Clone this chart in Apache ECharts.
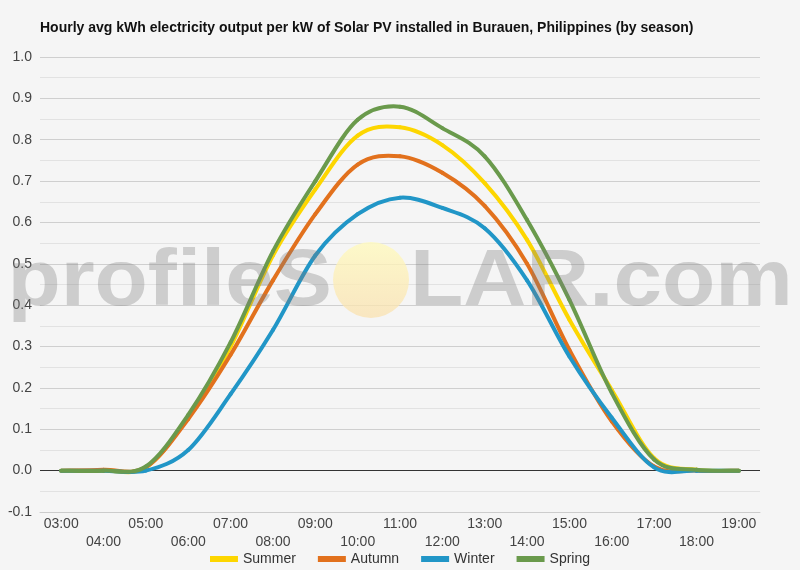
<!DOCTYPE html>
<html>
<head>
<meta charset="utf-8">
<script src="https://cdn.jsdelivr.net/npm/echarts@6/dist/echarts.min.js"></script>
<style>html,body{margin:0;padding:0;background:#f5f5f5;}#c{width:800px;height:570px;}</style>
</head>
<body>
<div id="c"></div>
<script>
var hours = ['03:00','04:00','05:00','06:00','07:00','08:00','09:00','10:00','11:00','12:00','13:00','14:00','15:00','16:00','17:00','18:00','19:00'];
var summer = [0, 0, 0.008, 0.13, 0.30, 0.52, 0.68, 0.81, 0.83, 0.787, 0.695, 0.558, 0.365, 0.195, 0.03, 0.002, 0];
var autumn = [0, 0.002, 0.008, 0.125, 0.28, 0.46, 0.62, 0.74, 0.76, 0.72, 0.64, 0.50, 0.292, 0.119, 0.01, 0, 0];
var winter = [0, 0, 0, 0.05, 0.185, 0.34, 0.52, 0.62, 0.66, 0.635, 0.586, 0.46, 0.276, 0.128, 0.008, 0, 0];
var spring = [0, 0, 0.01, 0.135, 0.31, 0.53, 0.70, 0.848, 0.88, 0.828, 0.76, 0.606, 0.413, 0.188, 0.027, 0.002, 0];
var seriesNames = ['Summer', 'Autumn', 'Winter', 'Spring'];
var seriesData = [summer, autumn, winter, spring];
var colors = ['#FDD600', '#E2711D', '#2196C7', '#6A9A4C'];
var titleText = 'Hourly avg kWh electricity output per kW of Solar PV installed in Burauen, Philippines (by season)';

var chart = echarts.init(document.getElementById('c'), null, {renderer: 'canvas'});

function makeRender(values, color) {
  return function (params, api) {
    if (params.dataIndex !== 0) return null;
    var pts = values.map(function (v, k) { return api.coord([k, v]); });
    var n = pts.length, s = 1 / 6, children = [];
    for (var i = 0; i < n - 1; i++) {
      var p0 = pts[Math.max(i - 1, 0)], p1 = pts[i], p2 = pts[i + 1], p3 = pts[Math.min(i + 2, n - 1)];
      children.push({
        type: 'bezierCurve',
        shape: {
          x1: p1[0], y1: p1[1], x2: p2[0], y2: p2[1],
          cpx1: p1[0] + (p2[0] - p0[0]) * s, cpy1: p1[1] + (p2[1] - p0[1]) * s,
          cpx2: p2[0] - (p3[0] - p1[0]) * s, cpy2: p2[1] - (p3[1] - p1[1]) * s
        },
        style: {stroke: color, lineWidth: 4, fill: null, lineCap: 'round'}
      });
    }
    return {type: 'group', children: children};
  };
}

var series = seriesNames.map(function (n, i) {
  var s = {
    name: n, type: 'custom', data: seriesData[i].map(function (v, k) { return [k, v]; }),
    encode: {x: 0, y: 1}, renderItem: makeRender(seriesData[i], colors[i]),
    itemStyle: {color: colors[i]}, z: 3 + i, silent: true
  };
  if (i === 0) {
    s.markLine = {silent: true, symbol: 'none', label: {show: false},
      lineStyle: {color: '#333', width: 1, type: 'solid'}, data: [{yAxis: 0}], z: 1};
  }
  return s;
});
chart.setOption({
  backgroundColor: '#f5f5f5',
  animation: false,
  color: colors,
  title: {text: titleText, left: 35, top: 16,
    textStyle: {fontFamily: 'Liberation Sans, Arial', fontSize: 14, fontWeight: 'bold', color: '#111'}},
  grid: {left: 40, right: 40, top: 57, bottom: 58},
  legend: {bottom: -1, left: 'center', icon: 'rect', itemWidth: 28, itemHeight: 6, itemGap: 22,
    textStyle: {fontFamily: 'Liberation Sans, Arial', fontSize: 14, color: '#333'}, data: seriesNames},
  xAxis: {type: 'category', data: hours, boundaryGap: true,
    axisLine: {onZero: false, lineStyle: {color: '#ccc'}}, axisTick: {show: false},
    axisLabel: {interval: 0, hideOverlap: false, margin: 3, lineHeight: 18,
      fontFamily: 'Liberation Sans, Arial', fontSize: 14, color: '#444',
      formatter: function (v, i) { return i % 2 ? '\n' + v : v; }}},
  yAxis: {type: 'value', min: -0.1, max: 1.0, interval: 0.1,
    axisLine: {show: false}, axisTick: {show: false},
    axisLabel: {margin: 8, fontFamily: 'Liberation Sans, Arial', fontSize: 14, color: '#444',
      formatter: function (v) { return v.toFixed(1); }},
    splitLine: {lineStyle: {color: '#cfcfcf', width: 1}},
    minorTick: {show: false, splitNumber: 2},
    minorSplitLine: {show: true, lineStyle: {color: '#e2e2e2', width: 1}}},
  graphic: [
    {type: 'text', x: 332, y: 283, scaleX: 1.09, z: 100, silent: true,
      style: {text: 'profileS', textAlign: 'right', textVerticalAlign: 'middle',
        font: 'bold 80px "Liberation Sans", Arial', fill: 'rgba(125,125,125,0.33)'}},
    {type: 'circle', shape: {cx: 371, cy: 280, r: 38}, z: 99, silent: true,
      style: {fill: new echarts.graphic.LinearGradient(0, 0, 0, 1, [
        {offset: 0, color: 'rgba(255,250,190,0.8)'}, {offset: 1, color: 'rgba(250,225,175,0.75)'}])}},
    {type: 'text', x: 410, y: 283, scaleX: 1.09, z: 100, silent: true,
      style: {text: 'LAR.com', textAlign: 'left', textVerticalAlign: 'middle',
        font: 'bold 80px "Liberation Sans", Arial', fill: 'rgba(125,125,125,0.33)'}}
  ],
  series: series
});
</script>
</body>
</html>
